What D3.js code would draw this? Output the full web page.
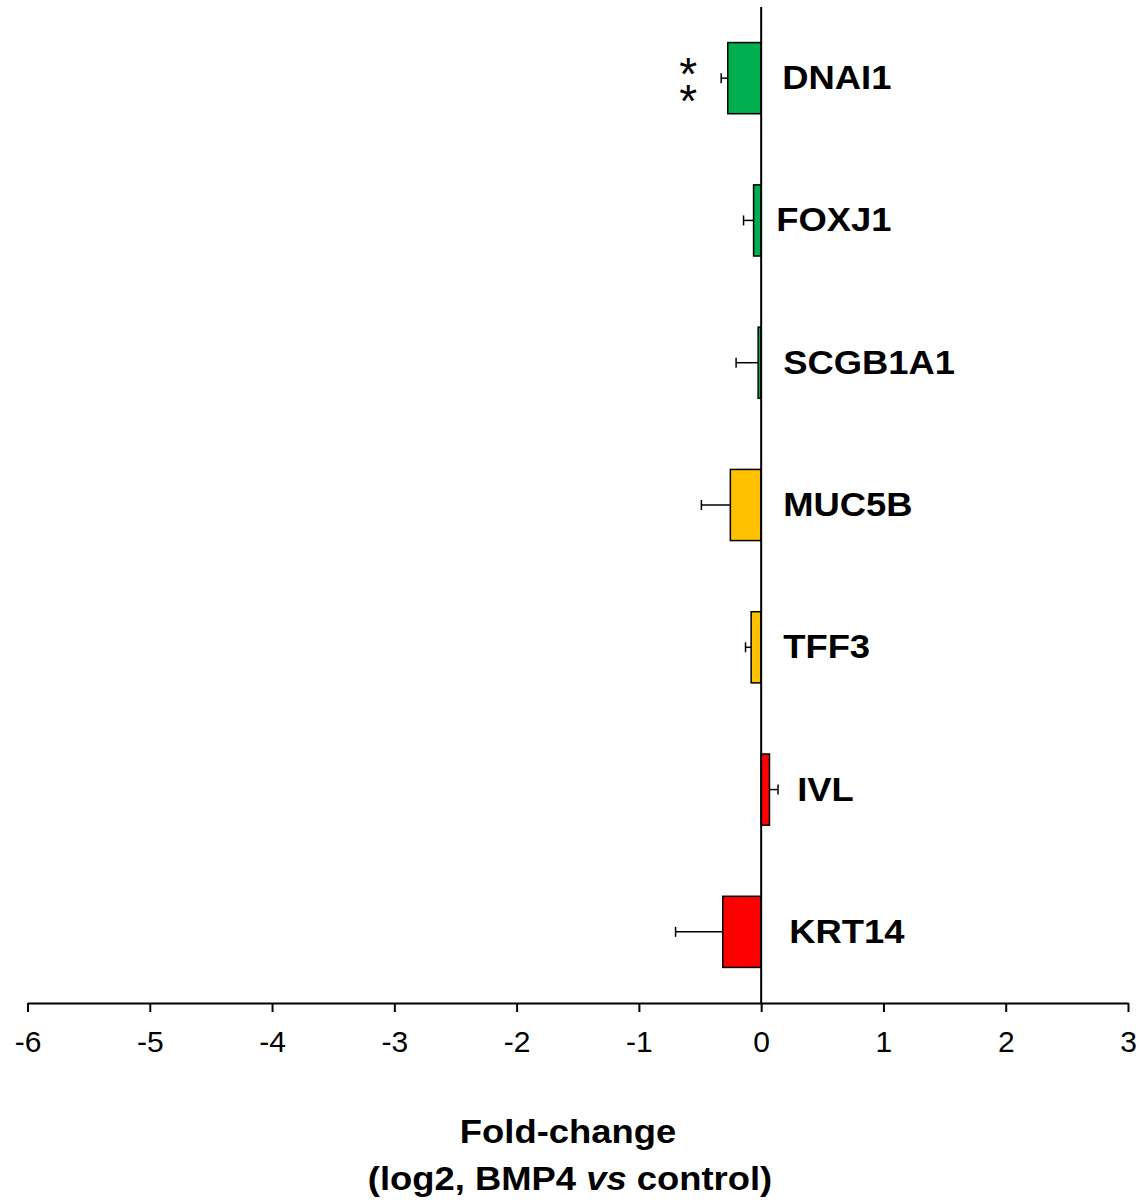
<!DOCTYPE html>
<html>
<head>
<meta charset="utf-8">
<script src="https://cdn.jsdelivr.net/npm/d3@7"></script>
<style>
  html, body { margin: 0; padding: 0; background: #fff; }
  svg { display: block; font-family: "Liberation Sans", Arial, sans-serif; }
</style>
</head>
<body>
<script>
// ---- data ----
const genes = ["DNAI1", "FOXJ1", "SCGB1A1", "MUC5B", "TFF3", "IVL", "KRT14"];
const foldChange = [-0.273, -0.062, -0.025, -0.252, -0.082, 0.068, -0.314];
const errors = [0.054, 0.082, 0.18, 0.237, 0.046, 0.07, 0.386];
const barColors = ["#00b050", "#00b050", "#00b050", "#ffc000", "#ffc000", "#ff0000", "#ff0000"];
const significance = ["**", "", "", "", "", "", ""];
const xTicks = [-6, -5, -4, -3, -2, -1, 0, 1, 2, 3];
const titleLine1 = "Fold-change";

const W = 1140, H = 1201;
const SX = 1.12; // horizontal stretch of bold text seen in the reference
const svg = d3.select("body").append("svg").attr("width", W).attr("height", H);

const x = d3.scaleLinear().domain([-6, 3]).range([27.5, 1128]);
const y = d3.scaleBand().domain(genes).range([7, 1003]).paddingInner(0.5).paddingOuter(0.25);
const axisY = 1003;
const labelDx = { DNAI1: 21, FOXJ1: 15, SCGB1A1: 22, MUC5B: 22, TFF3: 22, IVL: 36, KRT14: 28 };

const g = svg.append("g");
genes.forEach((gene, i) => {
  const v = foldChange[i];
  const y0 = y(gene), bh = y.bandwidth(), cy = y0 + bh / 2;
  const end = v + (v < 0 ? -errors[i] : errors[i]);
  g.append("line").attr("x1", x(v)).attr("x2", x(end)).attr("y1", cy).attr("y2", cy)
    .attr("stroke", "#000").attr("stroke-width", 1.5);
  g.append("line").attr("x1", x(end)).attr("x2", x(end)).attr("y1", cy - 5).attr("y2", cy + 5)
    .attr("stroke", "#000").attr("stroke-width", 1.5);
  g.append("rect")
    .attr("x", Math.min(x(0), x(v)))
    .attr("y", y0)
    .attr("width", Math.abs(x(v) - x(0)))
    .attr("height", bh)
    .attr("fill", barColors[i])
    .attr("stroke", "#000").attr("stroke-width", 1.5);
  svg.append("text")
    .attr("transform", `translate(${x(0) + labelDx[gene]},${cy + 11}) scale(${SX},1)`)
    .attr("font-size", 32.5).attr("font-weight", "bold")
    .text(gene);
  if (significance[i]) {
    // stacked stars as one vertical text
    svg.append("text")
      .attr("class", "stars")
      .attr("x", x(end) - 33)
      .attr("y", cy - 30)
      .style("writing-mode", "vertical-rl")
      .style("text-orientation", "upright")
      .style("letter-spacing", "-25px")
      .attr("font-size", 46)
      .text(significance[i]);
  }
});

// zero line
svg.append("line").attr("x1", x(0)).attr("x2", x(0)).attr("y1", 7).attr("y2", axisY)
  .attr("stroke", "#000").attr("stroke-width", 2);

// x axis
const axis = svg.append("g").attr("transform", `translate(0,${axisY})`)
  .call(d3.axisBottom(x).tickValues(xTicks).tickSize(9).tickSizeOuter(0)
    .tickFormat(d => String(d)));
axis.select(".domain").attr("stroke", "#000").attr("stroke-width", 2);
axis.selectAll(".tick line").attr("stroke", "#000").attr("stroke-width", 2);
axis.selectAll(".tick text").attr("font-size", 30).attr("fill", "#000")
  .attr("font-family", "Liberation Sans, Arial, sans-serif").attr("dy", 0).attr("y", 49);

// axis title
svg.append("text").attr("transform", `translate(568,1143) scale(${SX},1)`).attr("text-anchor", "middle")
  .attr("font-size", 32.5).attr("font-weight", "bold").text(titleLine1);
const t2 = svg.append("text").attr("transform", `translate(570,1190) scale(${SX},1)`).attr("text-anchor", "middle")
  .attr("font-size", 32.5).attr("font-weight", "bold");
t2.append("tspan").text("(log2, BMP4 ");
t2.append("tspan").attr("font-style", "italic").text("vs");
t2.append("tspan").text(" control)");
</script>
</body>
</html>
